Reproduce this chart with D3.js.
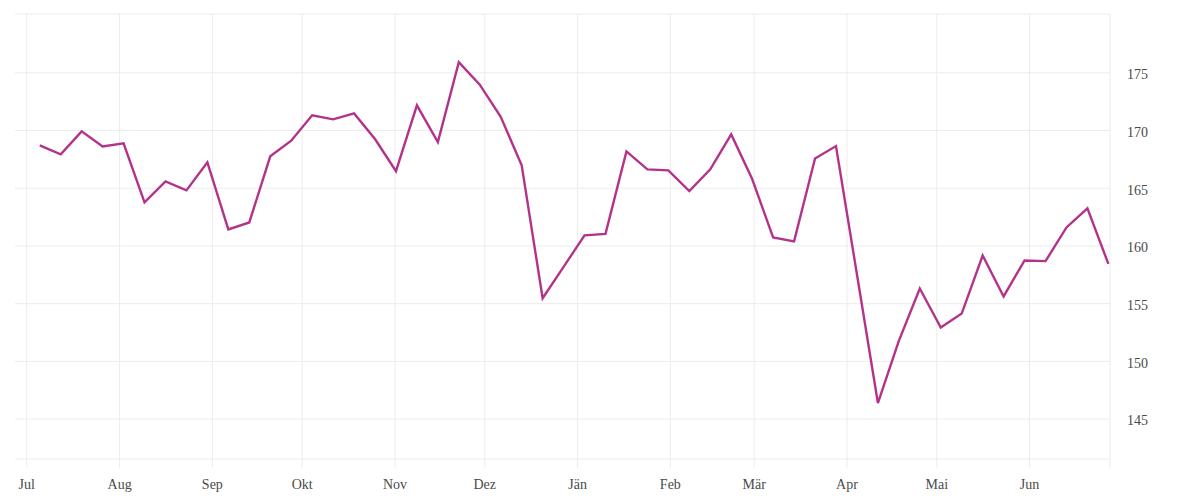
<!DOCTYPE html>
<html>
<head>
<meta charset="utf-8">
<script src="https://cdn.jsdelivr.net/npm/d3@7"></script>
<style>
  html, body { margin: 0; padding: 0; background: #fff; }
  svg { display: block; }
  .tick text { font-family: "Liberation Serif", "DejaVu Serif", serif; font-size: 14px; fill: #4a4a4a; }
</style>
</head>
<body>
<svg id="chart" width="1200" height="500"></svg>
<script>
const dates = [
  "2020-07-05","2020-07-12","2020-07-19","2020-07-26","2020-08-02","2020-08-09","2020-08-16","2020-08-23","2020-08-30",
  "2020-09-06","2020-09-13","2020-09-20","2020-09-27","2020-10-04","2020-10-11","2020-10-18","2020-10-25",
  "2020-11-01","2020-11-08","2020-11-15","2020-11-22","2020-11-29","2020-12-06","2020-12-13","2020-12-20","2020-12-27",
  "2021-01-03","2021-01-10","2021-01-17","2021-01-24","2021-01-31","2021-02-07","2021-02-14","2021-02-21","2021-02-28",
  "2021-03-07","2021-03-14","2021-03-21","2021-03-28","2021-04-04","2021-04-11","2021-04-18","2021-04-25",
  "2021-05-02","2021-05-09","2021-05-16","2021-05-23","2021-05-30","2021-06-06","2021-06-13","2021-06-20","2021-06-27"
];
const values = [
  168.67,167.89,169.88,168.58,168.84,163.73,165.55,164.77,167.2,
  161.39,161.99,167.72,169.07,171.27,170.92,171.44,169.22,
  166.44,172.14,168.96,175.87,173.93,171.15,166.94,155.43,158.15,
  160.87,161.0,168.15,166.59,166.5,164.71,166.59,169.62,165.75,
  160.69,160.35,167.54,168.61,157.5,146.35,151.73,156.27,152.89,
  154.1,159.13,155.58,158.7,158.64,161.56,163.21,158.4
];
const monthLabels = ["Jän","Feb","Mär","Apr","Mai","Jun","Jul","Aug","Sep","Okt","Nov","Dez"];
const yTicks = [145,150,155,160,165,170,175];

const mLeft = 15, mRight = 1110, mTop = 14, mBottom = 459, tickBottom = 468;
const parse = d3.utcParse("%Y-%m-%d");
const data = dates.map((d, i) => ({ date: d3.utcHour.offset(parse(d), 12), value: values[i] }));

const x = d3.scaleUtc()
  .domain([new Date(Date.UTC(2020,5,27,5,30)), new Date(Date.UTC(2021,5,28,1,0))])
  .range([mLeft, mRight]);
const y = d3.scaleLinear().domain([141.5, 180.05]).range([mBottom, mTop]);

const svg = d3.select("#chart");
const grid = "#ececec";

// x axis with vertical gridlines
const xAxis = svg.append("g")
  .attr("transform", `translate(0,${tickBottom})`)
  .call(d3.axisBottom(x)
    .ticks(d3.utcMonth.every(1))
    .tickSize(-(tickBottom - mTop))
    .tickPadding(11)
    .tickFormat(d => monthLabels[d.getUTCMonth()]));
xAxis.select(".domain").remove();
xAxis.selectAll(".tick line").attr("stroke", grid);

// y axis with horizontal gridlines
const yAxis = svg.append("g")
  .attr("transform", `translate(${mRight},0)`)
  .call(d3.axisRight(y)
    .tickValues(yTicks)
    .tickSize(-(mRight - mLeft))
    .tickPadding(17));
yAxis.select(".domain").remove();
yAxis.selectAll(".tick line").attr("stroke", grid);
yAxis.selectAll(".tick text").attr("dy", "0.45em");

// frame lines
svg.append("line").attr("x1", mLeft).attr("x2", mRight).attr("y1", mTop).attr("y2", mTop).attr("stroke", grid);
svg.append("line").attr("x1", mLeft).attr("x2", mRight).attr("y1", mBottom).attr("y2", mBottom).attr("stroke", grid);
svg.append("line").attr("x1", mRight).attr("x2", mRight).attr("y1", mTop).attr("y2", tickBottom).attr("stroke", grid);

// series line
svg.append("path")
  .datum(data)
  .attr("fill", "none")
  .attr("stroke", "#b3338b")
  .attr("stroke-width", 2.4)
  .attr("stroke-linejoin", "miter")
  .attr("d", d3.line().x(d => x(d.date)).y(d => y(d.value)));
</script>
</body>
</html>
